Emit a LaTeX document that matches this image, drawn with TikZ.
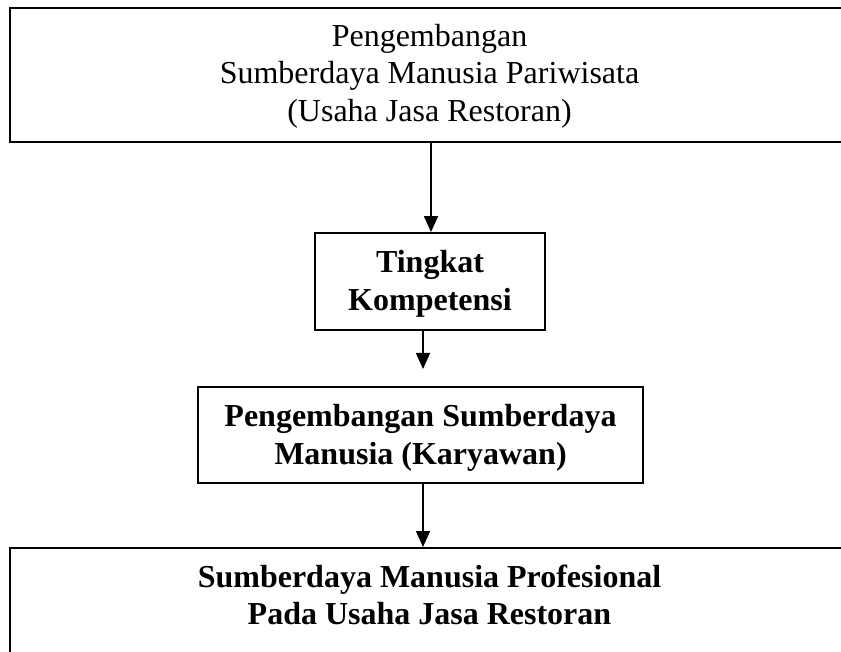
\documentclass[tikz,border=0pt]{standalone}
\usepackage{fontspec}
\setmainfont{Liberation Serif}
\usetikzlibrary{arrows.meta}
\begin{document}
\begin{tikzpicture}[x=1pt,y=-1pt,
  box/.style={draw=black, line width=1.8pt, inner sep=0pt, fill=white},
  txt/.style={align=center, font=\fontsize{32}{37.5}\selectfont, inner sep=0pt},
  btxt/.style={align=center, font=\fontsize{32}{37.5}\selectfont\bfseries, inner sep=0pt},
  arr/.style={line width=1.8pt, -{Triangle[length=16pt,width=14pt]}}]
\useasboundingbox (0,0) rectangle (841,652);
% top box
\node[box, minimum width=839pt, minimum height=134pt] (top) at (429.5,75) {};
\node[txt] (toptext) at (429.5,76) {Pengembangan\\Sumberdaya Manusia Pariwisata\\(Usaha Jasa Restoran)};
% Tingkat Kompetensi
\node[box, minimum width=230pt, minimum height=97pt] (tk) at (430,281.5) {};
\node[btxt] (tktext) at (430,284) {Tingkat\\Kompetensi};
% Karyawan
\node[box, minimum width=445pt, minimum height=96pt] (kr) at (420.5,435) {};
\node[btxt] (krtext) at (420.5,438) {Pengembangan Sumberdaya\\Manusia (Karyawan)};
% bottom box
\node[box, minimum width=839pt, minimum height=153pt, anchor=north] (bt) at (429.5,547) {};
\node[btxt] (bttext) at (429.5,595) {Sumberdaya Manusia Profesional\\Pada Usaha Jasa Restoran};
% arrows
\coordinate (a1) at (431,0);
\coordinate (a2) at (423,369);
\coordinate (a3) at (423,0);
\draw[arr] (top.south -| a1) -- (tk.north -| a1);
\draw[arr] (tk.south -| a2) -- (a2);
\draw[arr] (kr.south -| a3) -- (bt.north -| a3);
\end{tikzpicture}
\end{document}
